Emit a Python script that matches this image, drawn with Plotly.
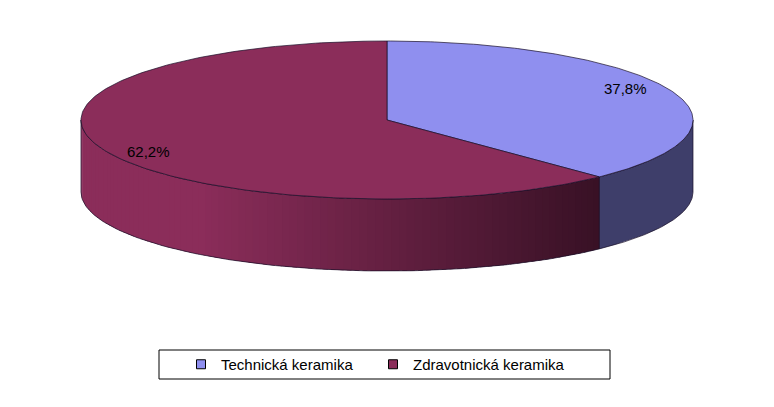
import numpy as np
import plotly.graph_objects as go

# ---- data ----
categories = ["Technická keramika", "Zdravotnická keramika"]
values = [37.8, 62.2]
labels = ["37,8%", "62,2%"]

top_colors = ["rgb(143,143,239)", "rgb(139,45,90)"]
side_light = [(62, 62, 106), (139, 45, 90)]
side_dark = [(62, 62, 106), (56, 17, 37)]
outline = "rgb(25,15,40)"

# ---- geometry (pixel space of the browser window) ----
W, H = 774, 407
OFF = 8  # page body margin
cx, cy, rx, ry, depth = 387, 120, 306, 79, 72


def pt(theta, dy=0.0):
    return cx + rx * np.sin(theta), cy - ry * np.cos(theta) + dy


total = sum(values)
bounds = np.concatenate([[0], np.cumsum(values) / total * 2 * np.pi])

fig = go.Figure()

# ---- sides (front half: theta in [pi/2, 3pi/2]) ----
for i in range(len(values)):
    a0 = max(bounds[i], np.pi / 2)
    a1 = min(bounds[i + 1], 3 * np.pi / 2)
    if a1 <= a0:
        continue
    nstrip = 90 if side_light[i] != side_dark[i] else 1
    edges = np.linspace(a0, a1, nstrip + 1)
    step = edges[1] - edges[0]
    for k in range(nstrip):
        e1 = min(edges[k + 1] + 0.6 * step, a1) if k < nstrip - 1 else edges[k + 1]
        t = np.linspace(edges[k], e1, 12)
        xs, ys = pt(t)
        xb, yb = pt(t[::-1], depth)
        xm = np.mean(pt(np.array([edges[k], edges[k + 1]]))[0])
        f = np.clip((xm - 200) / (599 - 200), 0, 1) if nstrip > 1 else 0
        c = tuple(int(round(side_light[i][j] + (side_dark[i][j] - side_light[i][j]) * f)) for j in range(3))
        col = "rgb(%d,%d,%d)" % c
        fig.add_trace(go.Scatter(
            x=np.concatenate([xs, xb, xs[:1]]), y=np.concatenate([ys, yb, ys[:1]]),
            mode="lines", fill="toself", fillcolor=col,
            line=dict(color=col, width=0), hoverinfo="skip", showlegend=False))
    # side outline
    t = np.linspace(a0, a1, 120)
    xs, ys = pt(t)
    xb, yb = pt(t[::-1], depth)
    fig.add_trace(go.Scatter(
        x=np.concatenate([xs, xb, xs[:1]]), y=np.concatenate([ys, yb, ys[:1]]),
        mode="lines", line=dict(color=outline, width=0.7), hoverinfo="skip", showlegend=False))

# ---- tops ----
for i in range(len(values)):
    t = np.linspace(bounds[i], bounds[i + 1], 200)
    xs, ys = pt(t)
    fig.add_trace(go.Scatter(
        x=np.concatenate([[cx], xs, [cx]]), y=np.concatenate([[cy], ys, [cy]]),
        mode="lines", fill="toself", fillcolor=top_colors[i],
        line=dict(color=outline, width=0.7), hoverinfo="skip", showlegend=False))

# ---- labels ----
for i in range(len(values)):
    mid = (bounds[i] + bounds[i + 1]) / 2
    fig.add_annotation(x=cx + 0.84 * rx * np.sin(mid), y=cy - 1.05 * ry * np.cos(mid),
                       text=labels[i], showarrow=False,
                       font=dict(family="Arial, Liberation Sans", size=15, color="black"))

# ---- legend entries ----
for i in range(len(values)):
    fig.add_trace(go.Scatter(
        x=[None], y=[None], mode="markers", name=categories[i],
        marker=dict(symbol="square", size=9, color=top_colors[i], line=dict(color="black", width=1))))

fig.add_shape(type="rect", xref="x", yref="y", x0=159, x1=610, y0=350, y1=379,
              line=dict(color="black", width=1), fillcolor="rgba(0,0,0,0)")

fig.update_layout(
    width=W, height=H, margin=dict(l=0, r=0, t=0, b=0),
    paper_bgcolor="white", plot_bgcolor="white",
    xaxis=dict(range=[OFF, W + OFF], visible=False, fixedrange=True),
    yaxis=dict(range=[H + OFF, OFF], visible=False, fixedrange=True),
    showlegend=True,
    legend=dict(orientation="h", x=(181 - OFF) / W, xanchor="left",
                y=1 - (364.5 - OFF) / H, yanchor="middle",
                bgcolor="rgba(0,0,0,0)", font=dict(family="Arial, Liberation Sans", size=15, color="black"),
                itemwidth=30, tracegroupgap=0, entrywidth=147, entrywidthmode="pixels"),
    font=dict(family="Arial, Liberation Sans"),
)

fig.write_html("out.html")
